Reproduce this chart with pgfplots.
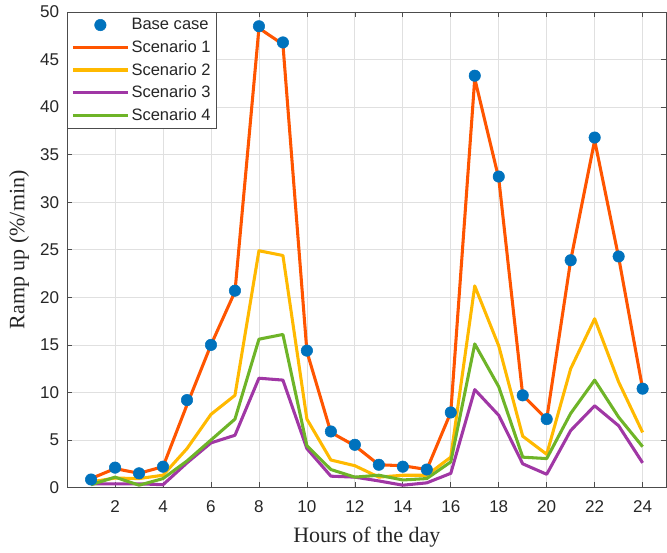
\documentclass[border=0pt]{standalone}
\usepackage{fontspec}
\setmainfont{Liberation Sans}
\newfontfamily\serifont{Liberation Serif}
\usepackage{pgfplots}
\pgfplotsset{compat=1.18}
\pgfplotsset{legend image code/.code={\draw[mark repeat=2,mark phase=2,#1] plot coordinates {(0cm,0cm)(0.725cm,0cm)(1.45cm,0cm)};}}
\definecolor{mblue}{RGB}{0,114,189}
\definecolor{morange}{RGB}{255,85,0}
\definecolor{myellow}{RGB}{255,185,0}
\definecolor{mpurple}{RGB}{160,55,165}
\definecolor{mgreen}{RGB}{110,180,40}
\begin{document}
\begin{tikzpicture}
\begin{axis}[
  scale only axis,
  width=450pt, height=357pt,
  xmin=0, xmax=25, ymin=0, ymax=50,
  xtick={2,4,...,24}, ytick={0,5,...,50},
  tick align=inside, major tick length=4pt,
  tick style={color=black!70, line width=0.5pt},
  axis line style={color=black!70, line width=0.6pt},
  grid=major, grid style={color=black!12, line width=0.6pt},
  /pgf/number format/assume math mode=true,
  ticklabel style={font=\fontsize{12.8}{15}\selectfont, text=black!85},
  xticklabel style={yshift=-6.5pt},
  yticklabel style={xshift=-2.5pt},
  xlabel={\serifont Hours of the day},
  ylabel={\serifont Ramp up (\%/min)},
  label style={font=\fontsize{16.5}{18}\selectfont, text=black!85},
  xlabel style={yshift=-4pt},
  ylabel style={yshift=-2pt, inner ysep=6.8pt},
  legend style={at={(rel axis cs:0,1)}, anchor=north west, draw=black!70, fill=white,
    font=\fontsize{12.4}{14}\selectfont, text=black!85, row sep=3.3pt, inner xsep=3pt, inner ysep=3pt,
    nodes={inner sep=1.6pt}},
  legend cell align=left,
  every axis plot/.append style={line join=round},
]
\addplot[only marks, mark=*, mark size=4.3pt, color=mblue] coordinates {
(1,0.85)(2,2.1)(3,1.5)(4,2.2)(5,9.2)(6,15.0)(7,20.7)(8,48.5)(9,46.8)(10,14.4)(11,5.9)(12,4.5)
(13,2.4)(14,2.2)(15,1.9)(16,7.9)(17,43.3)(18,32.7)(19,9.7)(20,7.2)(21,23.9)(22,36.8)(23,24.3)(24,10.4)};
\addlegendentry{Base case}
\addplot[color=morange, line width=2.3pt] coordinates {
(1,0.95)(2,2.0)(3,1.5)(4,2.2)(5,8.7)(6,15.0)(7,20.6)(8,48.3)(9,46.6)(10,14.3)(11,5.8)(12,4.4)
(13,2.4)(14,2.3)(15,1.9)(16,7.9)(17,43.0)(18,32.5)(19,9.7)(20,7.2)(21,23.9)(22,36.5)(23,24.2)(24,10.4)};
\addlegendentry{Scenario 1}
\addplot[color=myellow, line width=2.3pt] coordinates {
(1,0.6)(2,1.0)(3,0.95)(4,1.3)(5,4.1)(6,7.7)(7,9.7)(8,24.9)(9,24.4)(10,7.2)(11,2.9)(12,2.3)
(13,1.1)(14,1.3)(15,1.3)(16,3.2)(17,21.2)(18,14.9)(19,5.4)(20,3.5)(21,12.5)(22,17.75)(23,11.1)(24,5.8)};
\addlegendentry{Scenario 2}
\addplot[color=mpurple, line width=2.3pt] coordinates {
(1,0.4)(2,0.4)(3,0.4)(4,0.3)(5,2.6)(6,4.7)(7,5.5)(8,11.5)(9,11.3)(10,4.1)(11,1.2)(12,1.1)
(13,0.7)(14,0.25)(15,0.5)(16,1.5)(17,10.3)(18,7.6)(19,2.5)(20,1.4)(21,6.0)(22,8.6)(23,6.5)(24,2.6)};
\addlegendentry{Scenario 3}
\addplot[color=mgreen, line width=2.3pt] coordinates {
(1,0.3)(2,1.1)(3,0.25)(4,0.95)(5,2.8)(6,5.0)(7,7.2)(8,15.6)(9,16.1)(10,4.4)(11,1.9)(12,1.1)
(13,1.3)(14,0.8)(15,0.95)(16,2.7)(17,15.1)(18,10.6)(19,3.2)(20,3.05)(21,7.8)(22,11.3)(23,7.4)(24,4.3)};
\addlegendentry{Scenario 4}
\end{axis}
\path ([yshift=9pt]current axis.north) ([yshift=-45pt]current axis.south);
\end{tikzpicture}
\end{document}
